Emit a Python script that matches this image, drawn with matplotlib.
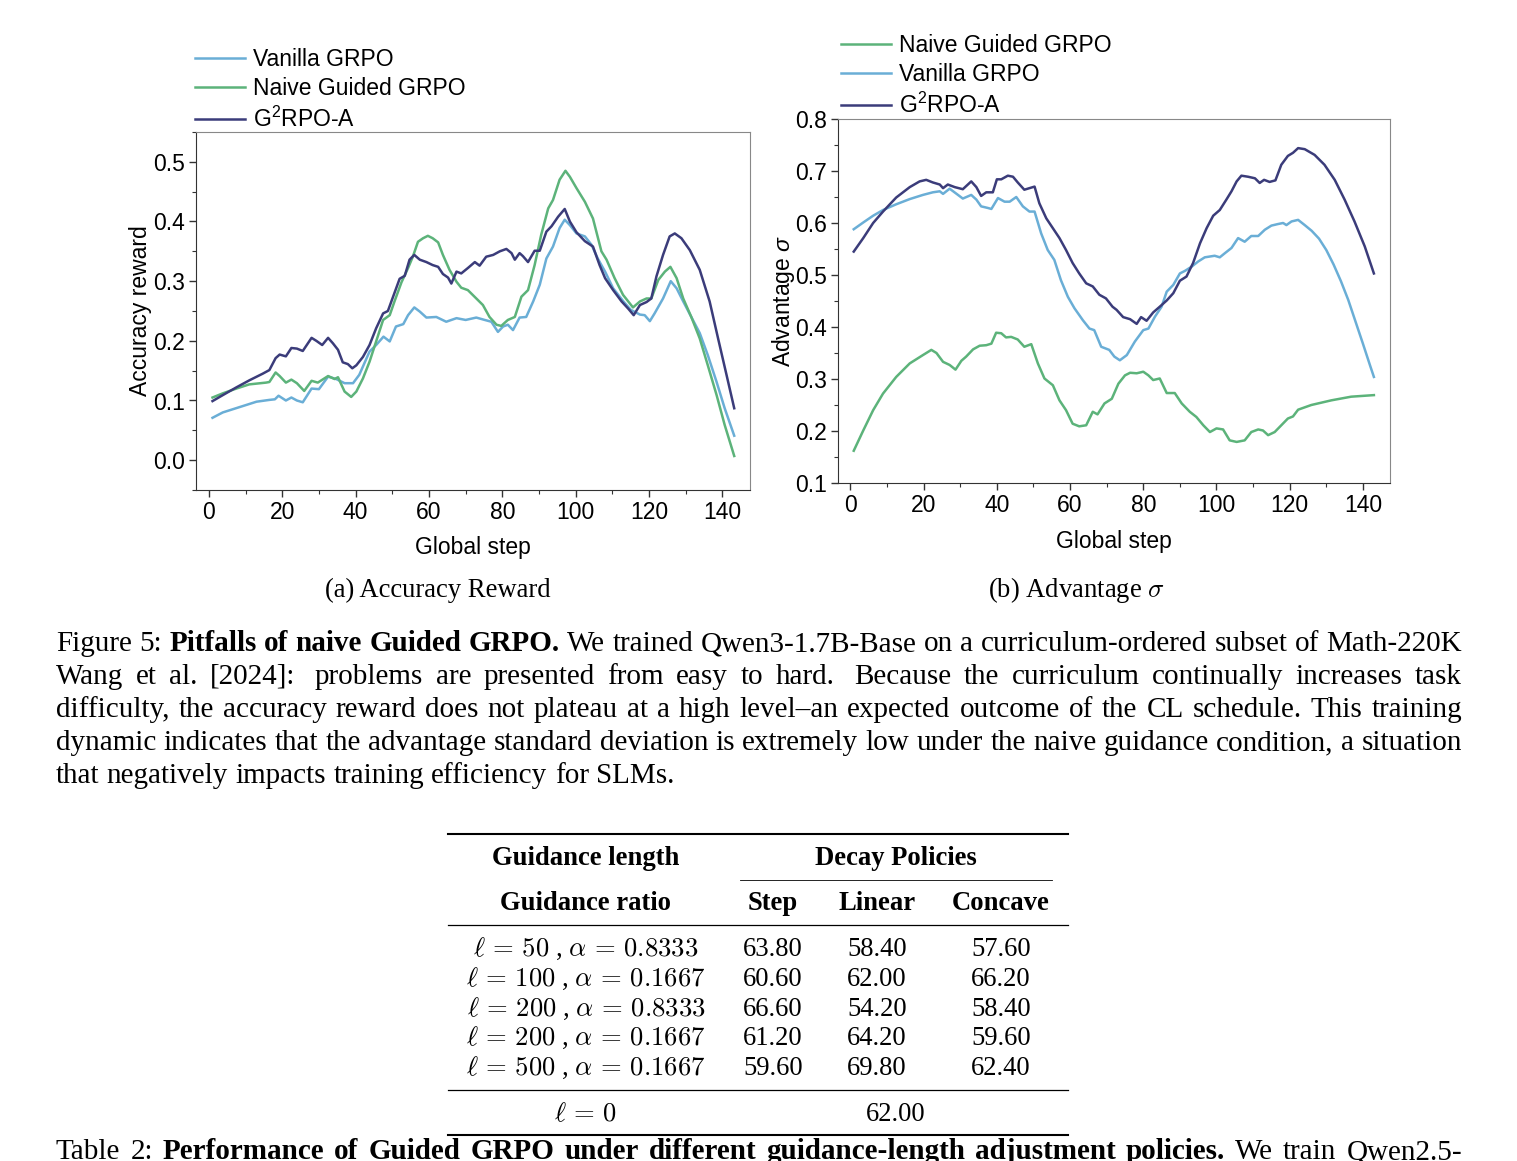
import re
import matplotlib
matplotlib.use("Agg")
import matplotlib.pyplot as plt
from matplotlib.lines import Line2D
from matplotlib.ticker import MultipleLocator

plt.rcParams["font.family"] = ["Liberation Sans", "DejaVu Sans"]
plt.rcParams["mathtext.fontset"] = "custom"
plt.rcParams["mathtext.rm"] = "Liberation Sans"
plt.rcParams["mathtext.it"] = "Liberation Sans:italic"
plt.rcParams["mathtext.bf"] = "Liberation Sans:bold"

# ---- data: (global step, value) ----
acc_vanilla = [(1, 0.071), (3.8, 0.080), (8.4, 0.089), (13, 0.098), (16.5, 0.101), (18, 0.102), (19, 0.108),
               (21, 0.100), (22.5, 0.105), (24, 0.100), (25.6, 0.097), (28, 0.120), (30, 0.119), (32.5, 0.140),
               (34.7, 0.136), (37, 0.129), (39.3, 0.129), (41, 0.143), (43.8, 0.182), (45.6, 0.193), (47.6, 0.207),
               (49.3, 0.199), (51, 0.224), (53, 0.228), (54.3, 0.243), (56, 0.256), (57.5, 0.249), (59.3, 0.239),
               (62, 0.240), (64.7, 0.232), (67.5, 0.238), (70, 0.235), (72.9, 0.239), (75.2, 0.235), (77, 0.232),
               (78.8, 0.215), (80.2, 0.224), (81.5, 0.227), (82.9, 0.218), (84.7, 0.239), (86.5, 0.240),
               (88.4, 0.266), (90.2, 0.294), (92, 0.338), (93.8, 0.358), (95.6, 0.389), (97, 0.403), (98.4, 0.394),
               (100.2, 0.380), (102.5, 0.375), (104.3, 0.361), (106, 0.338), (108, 0.316), (110.2, 0.288),
               (113, 0.266), (115, 0.252), (117.5, 0.244), (118.8, 0.243), (120.2, 0.233), (121.5, 0.246),
               (123.8, 0.271), (125.9, 0.300), (127.5, 0.288), (129.3, 0.266), (131.5, 0.240), (133.8, 0.213),
               (136, 0.176), (138.4, 0.131), (140.6, 0.087), (143.2, 0.041)]
acc_naive = [(1, 0.105), (3.8, 0.112), (7.5, 0.120), (11, 0.127), (15.6, 0.130), (16.5, 0.131), (18.2, 0.147),
             (19.3, 0.141), (21, 0.130), (22.5, 0.135), (24, 0.129), (26, 0.116), (28, 0.133), (29.7, 0.130),
             (32.5, 0.141), (34.3, 0.136), (35.2, 0.139), (37, 0.115), (38.8, 0.106), (40.2, 0.115), (42, 0.137),
             (43.8, 0.165), (45.6, 0.199), (47.5, 0.235), (49.3, 0.243), (50.6, 0.266), (52.5, 0.298),
             (54.3, 0.322), (55.6, 0.341), (57, 0.366), (58.4, 0.372), (59.7, 0.376), (61, 0.372), (62.5, 0.365),
             (63.8, 0.344), (65.6, 0.319), (67.5, 0.299), (68.8, 0.289), (70.6, 0.285), (72.9, 0.271),
             (74.7, 0.260), (76.5, 0.240), (78.4, 0.227), (79.7, 0.225), (81.5, 0.235), (83.4, 0.240),
             (85.2, 0.274), (87, 0.285), (88.8, 0.327), (90.6, 0.378), (92.5, 0.422), (93.8, 0.436),
             (95.6, 0.470), (97.2, 0.485), (98.4, 0.475), (100.2, 0.456), (102.5, 0.433), (104.7, 0.405),
             (107, 0.350), (108.4, 0.336), (110.6, 0.305), (112.9, 0.277), (115.6, 0.256), (117.5, 0.266),
             (119.3, 0.271), (120.6, 0.271), (122.5, 0.302), (124.3, 0.316), (125.8, 0.324), (127.5, 0.305),
             (129.3, 0.271), (131.5, 0.240), (133.8, 0.204), (136, 0.159), (138.4, 0.109), (140.6, 0.059),
             (143.2, 0.007)]
acc_g2rpo = [(1, 0.099), (3.8, 0.109), (7.5, 0.122), (11.1, 0.134), (14.7, 0.145), (16.5, 0.151), (18.2, 0.171),
             (19.3, 0.177), (21, 0.174), (22.5, 0.188), (24, 0.187), (25.6, 0.183), (28, 0.205), (29.3, 0.200),
             (30.9, 0.193), (32.5, 0.205), (33.8, 0.196), (35.2, 0.185), (36.5, 0.164), (37.9, 0.161),
             (39.1, 0.154), (40.2, 0.159), (42, 0.173), (43.8, 0.193), (45.6, 0.221), (47.5, 0.246), (48.8, 0.250),
             (50.4, 0.277), (52, 0.304), (53.4, 0.309), (54.7, 0.336), (56, 0.344), (57.5, 0.336), (59.3, 0.332),
             (61, 0.327), (62.5, 0.324), (63.8, 0.312), (65.2, 0.306), (66.1, 0.296), (67.5, 0.316),
             (68.8, 0.313), (70.6, 0.322), (72.5, 0.332), (73.8, 0.326), (75.6, 0.341), (77.5, 0.344),
             (79.3, 0.350), (81.1, 0.354), (82.5, 0.347), (83.4, 0.336), (84.7, 0.347), (85.6, 0.342), (87, 0.332),
             (88.8, 0.351), (90.2, 0.351), (92, 0.383), (93.4, 0.392), (95.2, 0.408), (97, 0.421), (98.4, 0.400),
             (100.2, 0.382), (102.5, 0.367), (104.7, 0.358), (106.5, 0.327), (108, 0.305), (110.2, 0.285),
             (112.5, 0.266), (114.3, 0.254), (115.8, 0.243), (117.5, 0.260), (119.3, 0.265), (120.6, 0.271),
             (122, 0.308), (123.8, 0.344), (125.6, 0.375), (127, 0.380), (128.8, 0.372), (131.1, 0.352),
             (133.8, 0.319), (136.5, 0.266), (138.8, 0.204), (141.1, 0.143), (143.2, 0.087)]

adv_vanilla = [(0.9, 0.588), (3.5, 0.601), (6.2, 0.614), (8.9, 0.625), (12.5, 0.636), (16.2, 0.646), (19.8, 0.654),
               (22.5, 0.659), (24.4, 0.661), (25.3, 0.656), (27.1, 0.666), (29, 0.656), (30.7, 0.647), (33, 0.654),
               (34.4, 0.645), (35.7, 0.632), (37.5, 0.629), (38.5, 0.627), (40.3, 0.648), (42.1, 0.641),
               (43.5, 0.641), (45.3, 0.650), (47.1, 0.632), (48.9, 0.622), (50.3, 0.622), (52.1, 0.580),
               (53.9, 0.548), (55.7, 0.529), (57.5, 0.490), (59.4, 0.458), (61.2, 0.436), (63.5, 0.413),
               (65.3, 0.397), (66.6, 0.394), (68.5, 0.362), (70.7, 0.356), (72.1, 0.343), (73.6, 0.336),
               (75.5, 0.346), (77.7, 0.372), (80, 0.394), (81.4, 0.397), (83.2, 0.420), (85, 0.439), (86.4, 0.468),
               (88.2, 0.481), (90, 0.503), (91.4, 0.508), (93.2, 0.516), (95, 0.526), (96.8, 0.534), (99.5, 0.537),
               (100.9, 0.534), (102.3, 0.542), (104.1, 0.552), (105.9, 0.571), (107.7, 0.564), (109.5, 0.575),
               (111.4, 0.575), (113.2, 0.587), (115, 0.595), (116.8, 0.598), (118.2, 0.600), (119.1, 0.596),
               (120.5, 0.603), (122.3, 0.606), (124.1, 0.596), (126, 0.585), (128, 0.570), (130, 0.548),
               (132, 0.520), (134, 0.488), (136, 0.452), (138, 0.410), (140, 0.368), (142, 0.325), (143, 0.304)]
adv_naive = [(0.9, 0.162), (3.5, 0.201), (6.2, 0.240), (8.9, 0.272), (12.5, 0.304), (16.2, 0.330), (19.8, 0.346),
             (22.1, 0.356), (23.5, 0.350), (25.3, 0.333), (27.1, 0.327), (28.7, 0.318), (30.3, 0.335),
             (31.6, 0.343), (33.5, 0.357), (35.3, 0.364), (37.1, 0.365), (38.5, 0.368), (39.8, 0.389),
             (41.2, 0.388), (42.5, 0.380), (43.9, 0.381), (45.7, 0.376), (47.5, 0.362), (49.4, 0.367),
             (51.2, 0.330), (53, 0.301), (55.3, 0.288), (57.1, 0.259), (58.9, 0.240), (60.7, 0.214), (62.5, 0.209),
             (64.4, 0.211), (66.2, 0.237), (67.5, 0.232), (69.4, 0.253), (71.4, 0.262), (73.2, 0.291), (75, 0.307),
             (76.4, 0.312), (78.2, 0.311), (80, 0.314), (81.4, 0.307), (82.7, 0.298), (84.5, 0.301), (86.4, 0.273),
             (88.6, 0.273), (90.5, 0.253), (92.7, 0.237), (94.5, 0.227), (96.4, 0.211), (98.2, 0.198), (100, 0.205),
             (101.8, 0.203), (103.6, 0.182), (105.5, 0.179), (107.7, 0.182), (109.5, 0.198), (111.4, 0.203),
             (112.7, 0.201), (114.1, 0.192), (115.9, 0.198), (117.7, 0.211), (119.5, 0.224), (120.9, 0.228),
             (122.3, 0.241), (125.9, 0.250), (131.4, 0.259), (136.8, 0.266), (143, 0.269)]
adv_g2rpo = [(0.9, 0.545), (3.5, 0.571), (6.2, 0.600), (8.9, 0.622), (12.5, 0.649), (16.2, 0.669), (18.9, 0.680),
             (20.7, 0.683), (22.5, 0.678), (24.4, 0.674), (25.3, 0.667), (26.6, 0.674), (28.5, 0.669),
             (30.7, 0.665), (33, 0.680), (34.4, 0.669), (35.7, 0.652), (37.1, 0.659), (38.9, 0.659), (40, 0.684),
             (41.2, 0.684), (43, 0.691), (44.4, 0.689), (45.7, 0.678), (47.5, 0.664), (48.9, 0.667), (50.3, 0.670),
             (51.6, 0.638), (53.5, 0.609), (55.3, 0.590), (57.1, 0.571), (58.9, 0.548), (60.7, 0.523),
             (62.5, 0.503), (64.4, 0.484), (66.2, 0.478), (68, 0.462), (69.8, 0.455), (71.6, 0.439), (72.7, 0.433),
             (74.5, 0.419), (76.4, 0.415), (78.2, 0.406), (79.4, 0.419), (80.9, 0.412), (82.7, 0.428),
             (84.5, 0.439), (86.4, 0.451), (88.2, 0.465), (90, 0.489), (91.8, 0.497), (93.6, 0.523), (95.5, 0.561),
             (97.3, 0.590), (99.1, 0.614), (100.9, 0.625), (102.7, 0.645), (104.1, 0.661), (105.5, 0.680),
             (106.8, 0.691), (108.6, 0.689), (110.5, 0.686), (111.8, 0.677), (113, 0.683), (114.5, 0.679),
             (116.1, 0.682), (117.7, 0.712), (119.5, 0.729), (120.9, 0.735), (122.3, 0.744), (124.1, 0.742),
             (126.8, 0.731), (129.5, 0.712), (132.3, 0.683), (135, 0.645), (137.7, 0.603), (140.5, 0.555),
             (143, 0.503)]

# table data
guide_lengths = [50, 100, 200, 200, 500]
guide_ratios = ["0.8333", "0.1667", "0.8333", "0.1667", "0.1667"]
step_scores = [63.80, 60.60, 66.60, 61.20, 59.60]
linear_scores = [58.40, 62.00, 54.20, 64.20, 69.80]
concave_scores = [57.60, 66.20, 58.40, 59.60, 62.40]
no_guide_score = 62.00

c_vanilla = "#6aaed6"
c_naive = "#5cb37a"
c_g2 = "#3b3c7a"

W, H = 1517, 1161
fig = plt.figure(figsize=(W / 100, H / 100), dpi=100)


def fx(px):
    return px / W


def fy(py):
    return 1 - py / H


def xy(pairs):
    return [p[0] for p in pairs], [p[1] for p in pairs]


def style_axes(ax):
    ax.tick_params(which="both", direction="out", top=False, right=False, labelsize=16.5, color="#333333")
    ax.tick_params(which="major", length=5, width=1.0, pad=3)
    ax.tick_params(which="minor", length=3, width=0.8)
    for s in ["left", "bottom"]:
        ax.spines[s].set_color("#333333")
    for s in ["top", "right"]:
        ax.spines[s].set_color("#888888")
    ax.xaxis.set_major_locator(MultipleLocator(20))
    ax.xaxis.set_minor_locator(MultipleLocator(10))
    ax.yaxis.set_major_locator(MultipleLocator(0.1))
    ax.yaxis.set_minor_locator(MultipleLocator(0.05))


lw = 1.8
# ---- (a) accuracy reward ----
ax1 = fig.add_axes([fx(196), fy(490), 554 / W, 358 / H])
ax1.plot(*xy(acc_vanilla), color=c_vanilla, lw=lw, label="Vanilla GRPO")
ax1.plot(*xy(acc_naive), color=c_naive, lw=lw, label="Naive Guided GRPO")
ax1.plot(*xy(acc_g2rpo), color=c_g2, lw=lw, label=r"G$^2$RPO-A")
ax1.set_xlim(-3.5, 147.5)
ax1.set_ylim(-0.05, 0.55)
style_axes(ax1)
ax1.set_ylabel("Accuracy reward", fontsize=16.5, va="center")
ax1.yaxis.set_label_coords(-0.101, 0.5)
ax1.set_xlabel("Global step", fontsize=16.5, va="center")
ax1.xaxis.set_label_coords(0.5, -0.162)
ax1.legend(loc="upper left", bbox_to_anchor=(fx(195), fy(48)), bbox_transform=fig.transFigure,
           frameon=False, fontsize=16.5, handlelength=2.2, handletextpad=0.35, labelspacing=0.28,
           borderpad=0, borderaxespad=0)

# ---- (b) advantage sigma ----
ax2 = fig.add_axes([fx(838), fy(483), 552 / W, 364 / H])
ax2.plot(*xy(adv_naive), color=c_naive, lw=lw, label="Naive Guided GRPO")
ax2.plot(*xy(adv_vanilla), color=c_vanilla, lw=lw, label="Vanilla GRPO")
ax2.plot(*xy(adv_g2rpo), color=c_g2, lw=lw, label=r"G$^2$RPO-A")
ax2.set_xlim(-3.4, 147.4)
ax2.set_ylim(0.1, 0.8)
style_axes(ax2)
ax2.set_ylabel(r"Advantage $\sigma$", fontsize=16.5, va="center")
ax2.yaxis.set_label_coords(-0.0996, 0.5)
ax2.set_xlabel("Global step", fontsize=16.5, va="center")
ax2.xaxis.set_label_coords(0.5, -0.16)
ax2.legend(loc="upper left", bbox_to_anchor=(fx(841), fy(34)), bbox_transform=fig.transFigure,
           frameon=False, fontsize=16.5, handlelength=2.2, handletextpad=0.35, labelspacing=0.28,
           borderpad=0, borderaxespad=0)

serif = "Liberation Serif"
fs = 19.2       # sub-captions and table
fs_cap = 21.0   # figure / table captions
fig.text(fx(438), fy(590), "(a) Accuracy Reward", ha="center", va="center", fontfamily=serif, fontsize=fs)
fig.text(fx(1076), fy(590), r"(b) Advantage $\sigma$", ha="center", va="center", fontfamily=serif,
         fontsize=fs, math_fontfamily="cm")

# ---- justified caption text ----
renderer = fig.canvas.get_renderer()


def draw_line(segments, base_y, justify=True, x0=56, x1=1462):
    items = []
    gap = 0.0
    for text, weight in segments:
        for part in re.split(r"( +)", text):
            if not part:
                continue
            if part[0] == " ":
                gap += 1 + 0.6 * (len(part) - 1)
            else:
                items.append((part, weight, gap if items else 0.0))
                gap = 0.0
    arts, widths = [], []
    for word, weight, g in items:
        t = fig.text(0, fy(base_y), word, fontsize=fs_cap, fontfamily=serif, fontweight=weight,
                     va="baseline", ha="left")
        widths.append(t.get_window_extent(renderer).width)
        arts.append(t)
    gaps = [it[2] for it in items]
    unit = (x1 - x0 - sum(widths)) / sum(gaps) if justify else 0.25 * fs_cap * 100 / 72
    x = x0
    for t, w, g in zip(arts, widths, gaps):
        x += g * unit
        t.set_x(fx(x))
        x += w


caption = [
    [("Figure 5: ", "normal"), ("Pitfalls of naive Guided GRPO.", "bold"),
     (" We trained Qwen3-1.7B-Base on a curriculum-ordered subset of Math-220K", "normal")],
    [("Wang et al. [2024]:  problems are presented from easy to hard.  Because the curriculum continually increases task", "normal")],
    [("difficulty, the accuracy reward does not plateau at a high level\u2013an expected outcome of the CL schedule. This training", "normal")],
    [("dynamic indicates that the advantage standard deviation is extremely low under the naive guidance condition, a situation", "normal")],
]
for i, seg in enumerate(caption):
    draw_line(seg, 651 + 33 * i)
draw_line([("that negatively impacts training efficiency for SLMs.", "normal")], 651 + 33 * 4, justify=False)

draw_line([("Table 2: ", "normal"),
           ("Performance of Guided GRPO under different guidance-length adjustment policies.", "bold"),
           (" We train Qwen2.5-", "normal")], 1159)

# ---- table ----
def hline(y, x0, x1, lw_):
    fig.add_artist(Line2D([fx(x0), fx(x1)], [fy(y), fy(y)], color="black", lw=lw_))


hline(834, 448, 1068, 1.5)
hline(880, 740, 1052, 0.6)
hline(925, 448, 1068, 0.9)
hline(1090, 448, 1068, 0.9)
hline(1135, 448, 1068, 1.5)

col1, col_step, col_lin, col_con = 586, 773, 877, 1001
tkw = dict(ha="center", va="baseline", fontfamily=serif, fontsize=fs)
fig.text(fx(col1), fy(865), "Guidance length", fontweight="bold", **tkw)
fig.text(fx(896), fy(865), "Decay Policies", fontweight="bold", **tkw)
fig.text(fx(col1), fy(910), "Guidance ratio", fontweight="bold", **tkw)
fig.text(fx(col_step), fy(910), "Step", fontweight="bold", **tkw)
fig.text(fx(col_lin), fy(910), "Linear", fontweight="bold", **tkw)
fig.text(fx(col_con), fy(910), "Concave", fontweight="bold", **tkw)

row_base = [956, 986, 1016, 1045, 1075]
for yb, ln, ra, s, li, co in zip(row_base, guide_lengths, guide_ratios, step_scores, linear_scores,
                                 concave_scores):
    fig.text(fx(col1), fy(yb), rf"$\ell\,=\,{ln}$ , $\alpha\,=\,{ra}$", math_fontfamily="cm", **tkw)
    fig.text(fx(col_step), fy(yb), f"{s:.2f}", **tkw)
    fig.text(fx(col_lin), fy(yb), f"{li:.2f}", **tkw)
    fig.text(fx(col_con), fy(yb), f"{co:.2f}", **tkw)

fig.text(fx(col1), fy(1121), r"$\ell\,=\,0$", math_fontfamily="cm", **tkw)
fig.text(fx(896), fy(1121), f"{no_guide_score:.2f}", **tkw)

fig.savefig("out.png", dpi=100)
